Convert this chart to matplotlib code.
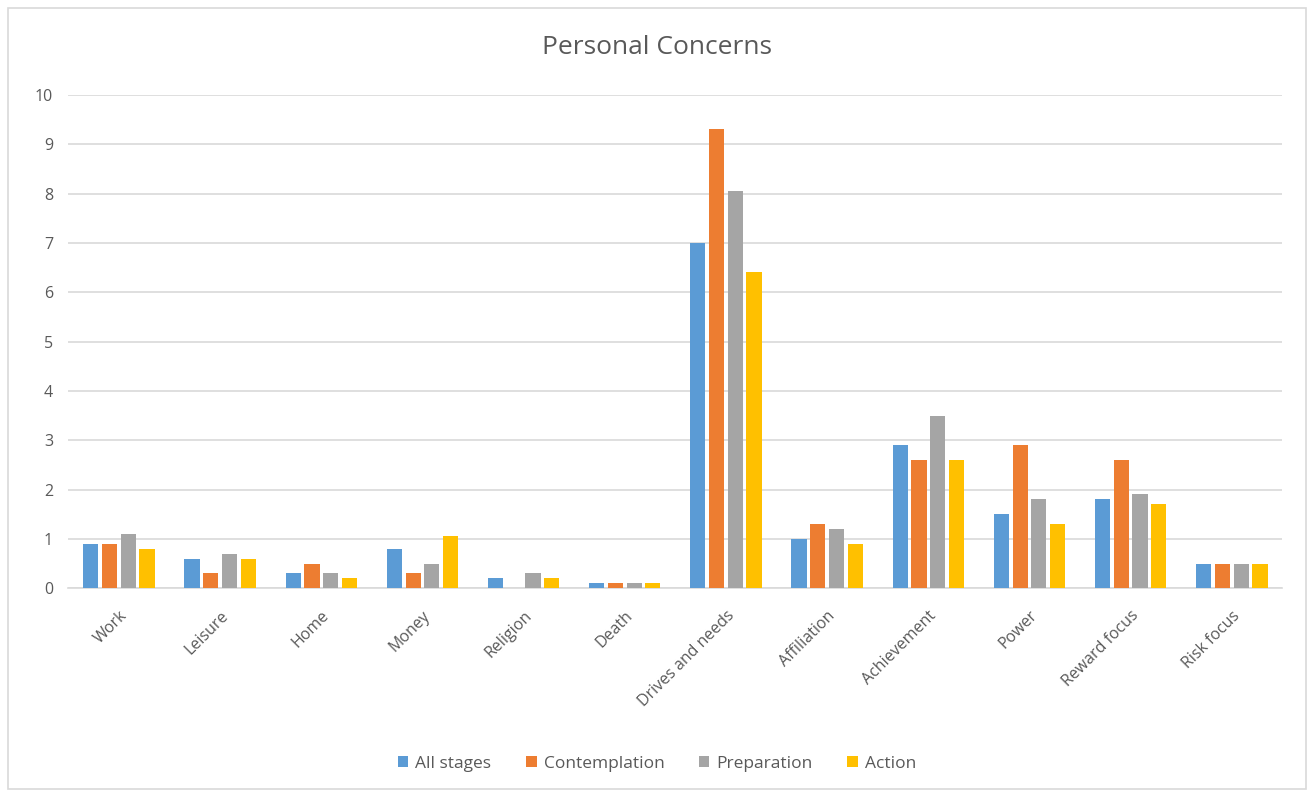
import matplotlib.pyplot as plt
import numpy as np
from matplotlib.patches import Rectangle

categories = ["Work", "Leisure", "Home", "Money", "Religion", "Death",
              "Drives and needs", "Affiliation", "Achievement", "Power",
              "Reward focus", "Risk focus"]
all_stages = [0.9, 0.6, 0.3, 0.8, 0.2, 0.1, 7.0, 1.0, 2.9, 1.5, 1.8, 0.5]
contemplation = [0.9, 0.3, 0.5, 0.3, 0.0, 0.1, 9.3, 1.3, 2.6, 2.9, 2.6, 0.5]
preparation = [1.1, 0.7, 0.3, 0.5, 0.3, 0.1, 8.05, 1.2, 3.5, 1.8, 1.9, 0.5]
action = [0.8, 0.6, 0.2, 1.05, 0.2, 0.1, 6.4, 0.9, 2.6, 1.3, 1.7, 0.5]

series = [("All stages", all_stages, "#5B9BD5"),
          ("Contemplation", contemplation, "#ED7D31"),
          ("Preparation", preparation, "#A5A5A5"),
          ("Action", action, "#FFC000")]

plt.rcParams['font.family'] = ['Open Sans', 'DejaVu Sans']

fig = plt.figure(figsize=(13.14, 7.97), dpi=100)
ax = fig.add_axes([0.052, 0.262, 0.924, 0.619])

x = np.arange(len(categories))
w = 0.15
step = 0.185
for i, (name, vals, col) in enumerate(series):
    ax.bar(x + (i - 1.5) * step, vals, width=w, color=col, label=name, zorder=3)

ax.set_xlim(-0.5, len(categories) - 0.5)
ax.set_ylim(0, 10)
ax.set_yticks(range(0, 11))
ax.grid(axis="y", color="#D9D9D9", linewidth=1.2, zorder=0)
for s in ["top", "right", "left"]:
    ax.spines[s].set_visible(False)
ax.spines["bottom"].set_color("#D9D9D9")
ax.spines["bottom"].set_linewidth(1.2)
ax.tick_params(axis="both", length=0, colors="#595959", labelsize=11.5)
ax.tick_params(axis="y", pad=11)
ax.tick_params(axis="x", pad=14)
ax.set_xticks(x)
ax.set_xticklabels(categories, rotation=45, ha="right", rotation_mode="anchor")

fig.text(0.5, 0.941, "Personal Concerns", ha="center", va="center",
         fontsize=19, color="#595959")

fig.legend(loc="center", bbox_to_anchor=(0.5, 0.042), ncol=4, frameon=False,
           fontsize=12.5, labelcolor="#595959", handlelength=0.6, handleheight=0.6,
           handletextpad=0.4, columnspacing=2.0)

fig.patches.append(Rectangle((0.006, 0.01), 0.988, 0.98, transform=fig.transFigure,
                             fill=False, edgecolor="#D9D9D9", linewidth=1.2))

fig.savefig("out.png", dpi=100)
